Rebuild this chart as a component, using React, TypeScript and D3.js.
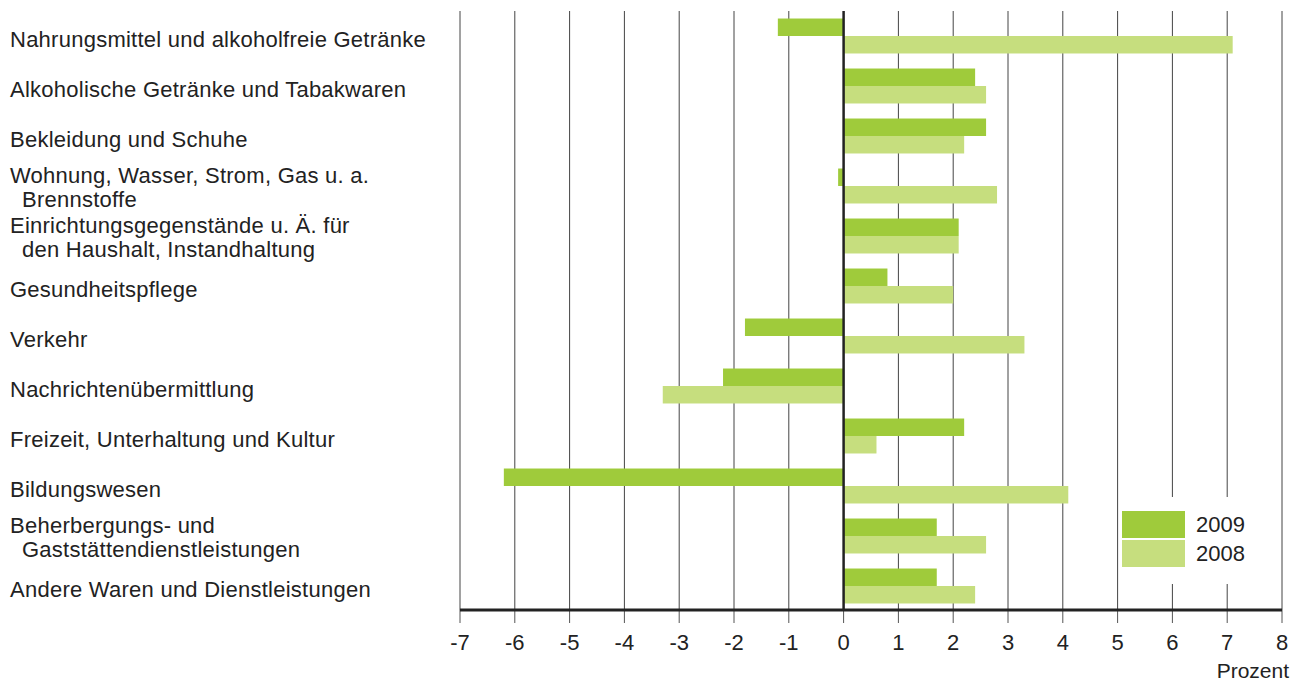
import React from "react";
import * as d3 from "d3";

const categories: string[][] = [
  ["Nahrungsmittel und alkoholfreie Getränke"],
  ["Alkoholische Getränke und Tabakwaren"],
  ["Bekleidung und Schuhe"],
  ["Wohnung, Wasser, Strom, Gas u. a.", "Brennstoffe"],
  ["Einrichtungsgegenstände u. Ä. für", "den Haushalt, Instandhaltung"],
  ["Gesundheitspflege"],
  ["Verkehr"],
  ["Nachrichtenübermittlung"],
  ["Freizeit, Unterhaltung und Kultur"],
  ["Bildungswesen"],
  ["Beherbergungs- und", "Gaststättendienstleistungen"],
  ["Andere Waren und Dienstleistungen"],
];

const values2009: number[] = [-1.2, 2.4, 2.6, -0.1, 2.1, 0.8, -1.8, -2.2, 2.2, -6.2, 1.7, 1.7];
const values2008: number[] = [7.1, 2.6, 2.2, 2.8, 2.1, 2.0, 3.3, -3.3, 0.6, 4.1, 2.6, 2.4];

const seriesNames = ["2009", "2008"];
const seriesColors = ["#9fcb3b", "#c6de7e"];
const xTicks: number[] = [-7, -6, -5, -4, -3, -2, -1, 0, 1, 2, 3, 4, 5, 6, 7, 8];
const unitLabel = "Prozent";

const W = 1300;
const H = 684;
const FONT = "'Liberation Sans', Arial, Helvetica, sans-serif";

export default function App() {
  const x = d3.scaleLinear().domain([-7, 8]).range([460, 1282]);
  const keys = categories.map((_, i) => String(i));
  const y0 = d3.scaleBand<string>().domain(keys).range([11, 611]).paddingInner(0).paddingOuter(0);
  const y1 = d3
    .scaleBand<string>()
    .domain(seriesNames)
    .range([0, y0.bandwidth()])
    .paddingInner(0)
    .paddingOuter(0.43);
  const series = [values2009, values2008];
  const axisY = 610;
  const gridTop = 11;
  const labelStyle = { letterSpacing: "0.25px" };

  return (
    <svg
      width={W}
      height={H}
      viewBox={`0 0 ${W} ${H}`}
      style={{ position: "absolute", left: 0, top: 0, background: "#fff" }}
      fontFamily={FONT}
    >
      {/* gridlines */}
      {xTicks
        .filter((t) => t !== 0)
        .map((t) => (
          <line
            key={"g" + t}
            x1={x(t)}
            x2={x(t)}
            y1={gridTop}
            y2={axisY}
            stroke="#444"
            strokeWidth={1}
          />
        ))}
      {/* tick marks */}
      {xTicks.map((t) => (
        <line key={"t" + t} x1={x(t)} x2={x(t)} y1={axisY} y2={axisY + 13} stroke="#555" strokeWidth={1} />
      ))}
      {/* legend background */}
      <rect x={1120} y={497} width={161} height={87} fill="#fff" />
      {/* bars */}
      {series.map((vals, si) =>
        vals.map((v, i) => {
          const yb = (y0(String(i)) ?? 0) + (y1(seriesNames[si]) ?? 0);
          return (
            <rect
              key={`b${si}-${i}`}
              x={Math.min(x(0), x(v))}
              y={yb}
              width={Math.abs(x(v) - x(0))}
              height={y1.bandwidth()}
              fill={seriesColors[si]}
            />
          );
        })
      )}
      {/* zero line */}
      <line x1={x(0)} x2={x(0)} y1={gridTop} y2={axisY} stroke="#222" strokeWidth={2.5} />
      {/* axis line */}
      <line x1={x(-7)} x2={x(8)} y1={axisY} y2={axisY} stroke="#222" strokeWidth={3} />
      {/* tick labels */}
      {xTicks.map((t) => (
        <text key={"l" + t} x={x(t)} y={650} textAnchor="middle" fontSize={22} fill="#222">
          {String(t)}
        </text>
      ))}
      <text x={1289} y={678} textAnchor="end" fontSize={21} fill="#222">
        {unitLabel}
      </text>
      {/* category labels */}
      {categories.map((lines, i) => {
        const cc = (y0(String(i)) ?? 0) + y0.bandwidth() / 2;
        if (lines.length === 1) {
          return (
            <text key={"c" + i} x={10} y={cc + 3} dy="0.35em" fontSize={22} fill="#222" style={labelStyle}>
              {lines[0]}
            </text>
          );
        }
        return (
          <g key={"c" + i}>
            <text x={10} y={cc - 11} dy="0.35em" fontSize={22} fill="#222" style={labelStyle}>
              {lines[0]}
            </text>
            <text x={22} y={cc + 13} dy="0.35em" fontSize={22} fill="#222" style={labelStyle}>
              {lines[1]}
            </text>
          </g>
        );
      })}
      {/* legend */}
      {seriesNames.map((s, i) => (
        <g key={"lg" + s}>
          <rect x={1122} y={511 + i * 29} width={63} height={27} fill={seriesColors[i]} />
          <text x={1196} y={511 + i * 29 + 13.5} dy="0.35em" fontSize={22} fill="#222">
            {s}
          </text>
        </g>
      ))}
    </svg>
  );
}
